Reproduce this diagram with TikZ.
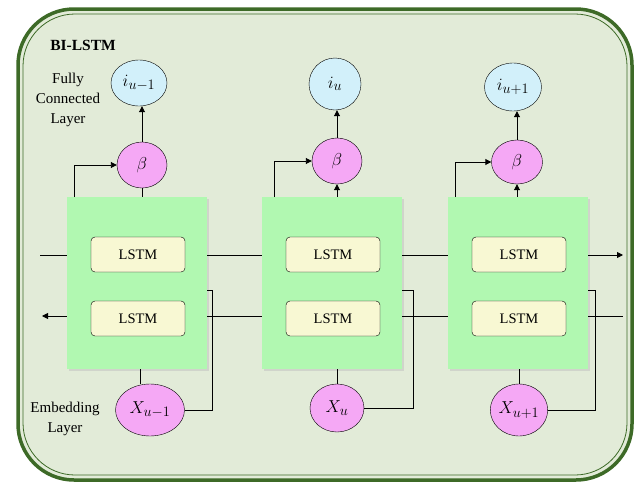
\documentclass[tikz,border=0pt]{standalone}
\usepackage{fontspec}
\setmainfont{Liberation Serif}
\usetikzlibrary{arrows.meta,shapes.geometric}
\definecolor{bgfill}{HTML}{E2EBD8}
\definecolor{frame}{HTML}{3D6A27}
\definecolor{cellgreen}{HTML}{B1F8B1}
\definecolor{lstmfill}{HTML}{F8F8D3}
\definecolor{pinkfill}{HTML}{F5A8F5}
\definecolor{bluefill}{HTML}{D2F0FA}
\begin{document}
\begin{tikzpicture}[x=1pt,y=-1pt,
  cell/.style={fill=cellgreen,draw=none,minimum width=140pt,minimum height=172pt,inner sep=0pt},
  lstm/.style={draw,rounded corners=4pt,fill=lstmfill,minimum width=94pt,minimum height=35pt,inner sep=0pt,font=\fontsize{14.5}{16}\selectfont},
  pinkell/.style={draw,ellipse,fill=pinkfill,inner sep=0pt,font=\fontsize{19}{21}\selectfont},
  blueell/.style={draw,ellipse,fill=bluefill,inner sep=0pt,font=\fontsize{19}{21}\selectfont},
  conn/.style={line width=0.9pt},
  arr/.style={conn,-{Triangle[length=6pt,width=6pt]}},
  lbl/.style={align=center,font=\fontsize{15}{20}\selectfont}
]
\useasboundingbox (0,0) rectangle (641,485);
% outer frame
\draw[frame,line width=3.5pt,fill=bgfill,rounded corners=56pt] (18,9) rectangle (632,480);
\draw[frame,line width=0.8pt,rounded corners=52pt] (23,14) rectangle (627,475);
\node[font=\bfseries\fontsize{15.5}{17}\selectfont] (title) at (83,45) {BI-LSTM};
\node[lbl] (fcl) at (68,100) {Fully\\Connected\\Layer};
\node[lbl] (eml) at (65,419) {Embedding\\Layer};
% cells with shadows
\foreach \cx/\n in {137/1,332/2,518/3}{
  \fill[black!25,opacity=0.5] (\cx-70+2,197+2) rectangle (\cx+70+2,369+2);
  \node[cell] (c\n) at (\cx,283) {};
  \node[lstm] (u\n) at (\cx+1,254.5) {LSTM};
  \node[lstm] (d\n) at (\cx+1,318.5) {LSTM};
}
% beta
\node[pinkell,minimum width=50pt,minimum height=46pt] (b1) at (142,165) {$\beta$};
\node[pinkell,minimum width=50pt,minimum height=46pt] (b2) at (337,161) {$\beta$};
\node[pinkell,minimum width=51pt,minimum height=44pt] (b3) at (517,162) {$\beta$};
% outputs
\node[blueell,minimum width=56pt,minimum height=46pt] (i1) at (139,83) {$i_{u-1}$};
\node[blueell,minimum width=52pt,minimum height=52pt] (i2) at (335,84) {$i_{u}$};
\node[blueell,minimum width=57pt,minimum height=48pt] (i3) at (513,87) {$i_{u+1}$};
% inputs
\node[pinkell,minimum width=69pt,minimum height=52pt] (x1) at (150,410) {$X_{u-1}$};
\node[pinkell,minimum width=54pt,minimum height=48pt] (x2) at (337,408) {$X_{u}$};
\node[pinkell,minimum width=57pt,minimum height=52pt] (x3) at (519,410) {$X_{u+1}$};
% free ends and bends
\coordinate (lin) at (40,255);
\coordinate (rout) at (623,255);
\coordinate (lout) at (42,316);
\coordinate (rin) at (623,316);
\coordinate (f1) at (74,197);
\coordinate (f2) at (274,197);
\coordinate (f3) at (455,197);
\coordinate (k1) at (212,290);
\coordinate (k2) at (413,290);
\coordinate (k3) at (595,290);
% horizontal flows
\draw[conn] (lin) -- (lin -| c1.west);
\draw[conn] (c1.east |- lin) -- (c2.west |- lin);
\draw[conn] (c2.east |- lin) -- (c3.west |- lin);
\draw[arr] (c3.east |- rout) -- (rout);
\draw[arr] (c1.west |- lout) -- (lout);
\draw[conn] (c1.east |- lout) -- (c2.west |- lout);
\draw[conn] (c2.east |- lout) -- (c3.west |- lout);
\draw[conn] (c3.east |- rin) -- (rin);
% beta links
\draw[conn] (b1 |- c1.north) -- (b1.south);
\draw[arr] (b2 |- c2.north) -- (b2.south);
\draw[arr] (b3 |- c3.north) -- (b3.south);
\draw[arr] (b1.north) -- (b1 |- i1.south);
\draw[arr] (b2.north) -- (b2 |- i2.south);
\draw[arr] (b3.north) -- (b3 |- i3.south);
\draw[arr] (f1) |- (b1.west);
\draw[arr] (f2) |- (b2.west);
\draw[arr] (f3) |- (b3.west);
% input links
\draw[conn] (x1.north -| 140,0) -- (140,369);
\draw[conn] (x2.north) -- (x2 |- c2.south);
\draw[conn] (x3.north) -- (x3 |- c3.south);
\draw[conn] (x1.east) -| (k1) -- (c1.east |- k1);
\draw[conn] (x2.east) -| (k2) -- (c2.east |- k2);
\draw[conn] (x3.east) -| (k3) -- (c3.east |- k3);
\end{tikzpicture}
\end{document}
